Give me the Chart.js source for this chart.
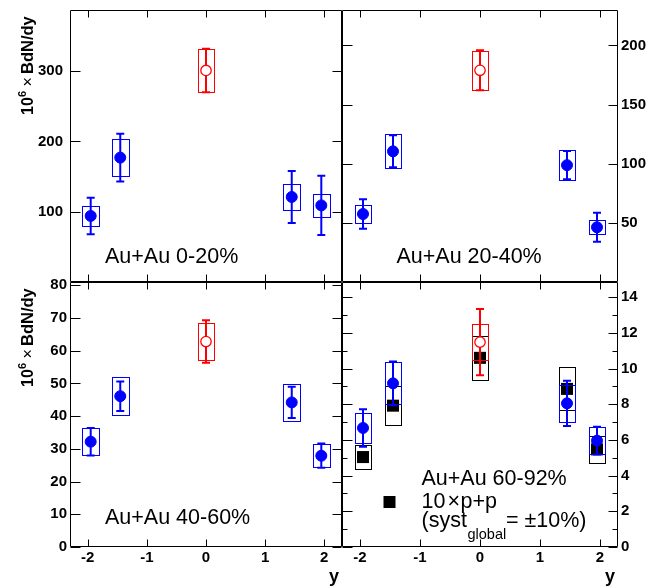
<!DOCTYPE html>
<html>
<head>
<meta charset="utf-8">
<script src="https://cdn.jsdelivr.net/npm/chart.js@4.4.1/dist/chart.umd.min.js"></script>
<style>
  body { margin: 0; background: #fff; }
  #wrap { position: relative; width: 662px; height: 587px; }
  #wrap canvas { position: absolute; left: 0; top: 0; }
</style>
</head>
<body>
<div id="wrap">
  <canvas id="c020" width="662" height="587"></canvas>
  <canvas id="c2040" width="662" height="587"></canvas>
  <canvas id="c4060" width="662" height="587"></canvas>
  <canvas id="c6092" width="662" height="587"></canvas>
</div>
<script>
// rapidity positions of the measurements
const yForward = [-1.95, -1.45, 1.45, 1.95];
const yMid = [0];
const yPP = [-1.95, -1.45, 0, 1.45, 1.95];
const xTickVals = [-2, -1, 0, 1, 2];

// Au+Au 0-20%
const c020Val = [94, 177, 121, 109];
const c020Stat = [26, 34, 37, 42];
const c020Syst = [14, 26, 18, 16];
const c020MidVal = [301];
const c020MidStat = [31];
const c020MidSyst = [31];

// Au+Au 20-40%
const c2040Val = [57.5, 110.5, 98.8, 46.3];
const c2040Stat = [12.5, 13.5, 11.9, 12.3];
const c2040Syst = [7.6, 14.3, 12.5, 5.8];
const c2040MidVal = [179];
const c2040MidStat = [16.9];
const c2040MidSyst = [16.6];

// Au+Au 40-60%
const c4060Val = [32.2, 46.1, 44.2, 27.9];
const c4060Stat = [4.2, 4.5, 4.8, 3.7];
const c4060Syst = [4.1, 5.9, 5.6, 3.5];
const c4060MidVal = [62.8];
const c4060MidStat = [6.5];
const c4060MidSyst = [5.6];

// Au+Au 60-92%
const c6092Val = [6.67, 9.17, 8.05, 5.96];
const c6092Stat = [1.05, 1.22, 1.27, 0.78];
const c6092Syst = [0.85, 1.18, 1.03, 0.77];
const c6092MidVal = [11.48];
const c6092MidStat = [1.85];
const c6092MidSyst = [1.01];

// 10 x p+p
const ppVal = [5.04, 7.92, 10.6, 8.86, 5.47];
const ppSyst = [0.69, 1.09, 1.23, 1.2, 0.75];

// axis ticks
const ticks020 = [100, 200, 300];
const ticks2040 = [50, 100, 150, 200];
const ticks4060 = [0, 10, 20, 30, 40, 50, 60, 70, 80];
const ticks6092 = [0, 2, 4, 6, 8, 10, 12, 14];
const minor6092 = [1, 3, 5, 7, 9, 11, 13];

const W = 662, H = 587;
const boxHalfWidth = 0.14;
const FONT = '"Liberation Sans", Arial, Helvetica, sans-serif';
Chart.defaults.font.family = FONT;

function auSeries(xs, val, stat, syst, open) {
  const color = open ? 'rgb(255,0,0)' : 'rgb(0,0,255)';
  return {
    data: xs.map((x, i) => ({ x: x, y: val[i] })),
    stat: stat,
    syst: syst,
    color: color,
    pointStyle: 'circle',
    pointRadius: open ? 5.2 : 5.5,
    pointBorderWidth: open ? 1.3 : 1,
    pointBackgroundColor: open ? '#fff' : color,
    pointBorderColor: color
  };
}

function ppSeries() {
  return {
    data: yPP.map((x, i) => ({ x: x, y: ppVal[i] })),
    syst: ppSyst,
    color: '#000',
    pointStyle: 'rect',
    pointRadius: 8.5,
    pointBorderWidth: 0,
    pointBackgroundColor: '#000',
    pointBorderColor: '#000'
  };
}

function drawYTitle(ctx, x, y0) {
  ctx.save();
  ctx.translate(x, y0);
  ctx.rotate(-Math.PI / 2);
  ctx.fillStyle = '#000';
  ctx.textAlign = 'left';
  ctx.textBaseline = 'alphabetic';
  ctx.font = 'bold 16px ' + FONT;
  ctx.fillText('10', 0, 0);
  ctx.font = 'bold 11px ' + FONT;
  ctx.fillText('6', 18, -7);
  ctx.font = '16px ' + FONT;
  ctx.fillText('\u00d7', 28.5, 0);
  ctx.font = 'bold 16.5px ' + FONT;
  ctx.fillText('BdN/dy', 41, 0);
  ctx.restore();
}

function framePlugin(p) {
  return {
    id: 'rootFrame',
    beforeDatasetDraw(chart, args) {
      const ds = chart.data.datasets[args.index];
      const xs = chart.scales.x, ys = chart.scales.y;
      const ctx = chart.ctx;
      ctx.save();
      ds.data.forEach((pt, i) => {
        const px = xs.getPixelForValue(pt.x);
        if (ds.syst) {
          const x0 = Math.round(xs.getPixelForValue(pt.x - boxHalfWidth)) + 0.5;
          const x1 = Math.round(xs.getPixelForValue(pt.x + boxHalfWidth)) + 0.5;
          const y0 = Math.round(ys.getPixelForValue(pt.y + ds.syst[i])) + 0.5;
          const y1 = Math.round(ys.getPixelForValue(pt.y - ds.syst[i])) + 0.5;
          ctx.strokeStyle = ds.color;
          ctx.lineWidth = 1;
          ctx.strokeRect(x0, y0, x1 - x0, y1 - y0);
        }
        if (ds.stat) {
          const yHi = ys.getPixelForValue(pt.y + ds.stat[i]);
          const yLo = ys.getPixelForValue(pt.y - ds.stat[i]);
          ctx.strokeStyle = ds.color;
          ctx.lineWidth = 2;
          ctx.beginPath();
          ctx.moveTo(px, yHi); ctx.lineTo(px, yLo);
          ctx.moveTo(px - 4, yHi); ctx.lineTo(px + 4, yHi);
          ctx.moveTo(px - 4, yLo); ctx.lineTo(px + 4, yLo);
          ctx.stroke();
        }
      });
      ctx.restore();
    },
    afterDraw(chart) {
      const ctx = chart.ctx;
      const xs = chart.scales.x, ys = chart.scales.y;
      const a = chart.chartArea;
      const L = Math.round(a.left) + 0.5, R = Math.round(a.right) - 0.5;
      const T = Math.round(a.top) + 0.5, B = Math.round(a.bottom) - 0.5;
      ctx.save();
      ctx.strokeStyle = '#000';
      ctx.lineWidth = 1;
      ctx.beginPath();
      ctx.rect(L, T, R - L, B - T);
      p.yTicks.forEach(v => {
        const py = Math.round(ys.getPixelForValue(v)) + 0.5;
        ctx.moveTo(L, py); ctx.lineTo(L + 10, py);
        ctx.moveTo(R, py); ctx.lineTo(R - 9, py);
      });
      (p.yMinor || []).forEach(v => {
        const py = Math.round(ys.getPixelForValue(v)) + 0.5;
        ctx.moveTo(L, py); ctx.lineTo(L + 5, py);
        ctx.moveTo(R, py); ctx.lineTo(R - 5, py);
      });
      xTickVals.forEach(v => {
        const px = Math.round(xs.getPixelForValue(v)) + 0.5;
        ctx.moveTo(px, B); ctx.lineTo(px, B - 7);
        ctx.moveTo(px, T); ctx.lineTo(px, T + 7);
      });
      ctx.stroke();

      ctx.fillStyle = '#000';
      ctx.textAlign = 'left';
      ctx.textBaseline = 'alphabetic';
      ctx.font = '21.5px ' + FONT;
      p.texts.forEach(t => ctx.fillText(t.text, t.x, t.y));

      if (p.legend) {
        ctx.fillRect(383.5, 496, 12, 12);
        ctx.font = '21.5px ' + FONT;
        ctx.fillText('10', 421.5, 508);
        ctx.fillText('\u00d7', 447.5, 508);
        ctx.fillText('p+p', 460.5, 508);
        ctx.fillText('(syst', 421.5, 526.5);
        ctx.fillText('= \u00b110%)', 506, 526.5);
        ctx.font = '14.5px ' + FONT;
        ctx.fillText('global', 467.5, 539);
      }
      if (p.yTitle) drawYTitle(ctx, 32.5, a.top + 105);
      if (p.showX) {
        ctx.font = 'bold 18px ' + FONT;
        ctx.textAlign = 'right';
        ctx.fillText('y', a.right - 3, 582);
      }
      ctx.restore();
    }
  };
}

function makePanel(id, p) {
  const yW = 40, xH = 30;
  const [l, t, r, b] = p.area;
  const pad = {
    top: t,
    left: p.yPos === 'left' ? l - yW : l,
    right: p.yPos === 'right' ? W - r - yW : W - r,
    bottom: p.showX ? H - b - xH : H - b
  };
  const tickFont = { family: FONT, size: 15, weight: 'bold' };
  return new Chart(document.getElementById(id), {
    type: 'scatter',
    data: { datasets: p.datasets },
    options: {
      responsive: false,
      animation: false,
      devicePixelRatio: 1,
      events: [],
      layout: { padding: pad },
      plugins: { legend: { display: false }, tooltip: { enabled: false } },
      scales: {
        x: {
          type: 'linear', min: -2.3, max: 2.3,
          display: p.showX,
          grid: { display: false, drawTicks: false },
          border: { display: false },
          afterBuildTicks: s => { s.ticks = xTickVals.map(v => ({ value: v })); },
          afterFit: s => {
            if (p.showX) s.height = xH;
            s.paddingLeft = 0; s.paddingRight = 0; s.paddingTop = 0; s.paddingBottom = 0;
          },
          ticks: { font: tickFont, color: '#000', padding: 2, maxRotation: 0, autoSkip: false,
                   callback: v => String(v) }
        },
        y: {
          type: 'linear', position: p.yPos, min: 0, max: p.yMax,
          grid: { display: false, drawTicks: false },
          border: { display: false },
          afterBuildTicks: s => { s.ticks = p.yTicks.map(v => ({ value: v })); },
          afterFit: s => {
            s.width = yW;
            s.paddingLeft = 0; s.paddingRight = 0; s.paddingTop = 0; s.paddingBottom = 0;
          },
          ticks: { font: tickFont, color: '#000', padding: p.yPad, autoSkip: false,
                   callback: v => String(v) }
        }
      }
    },
    plugins: [framePlugin(p)]
  });
}

makePanel('c020', {
  area: [70, 10, 342, 282], yPos: 'left', yPad: 7, showX: false, yTitle: true,
  yMax: 387, yTicks: ticks020,
  texts: [{ text: 'Au+Au 0-20%', x: 105, y: 263 }],
  datasets: [
    auSeries(yForward, c020Val, c020Stat, c020Syst, false),
    auSeries(yMid, c020MidVal, c020MidStat, c020MidSyst, true)
  ]
});

makePanel('c2040', {
  area: [342, 10, 618, 282], yPos: 'right', yPad: 3, showX: false,
  yMax: 230, yTicks: ticks2040,
  texts: [{ text: 'Au+Au 20-40%', x: 396.5, y: 263 }],
  datasets: [
    auSeries(yForward, c2040Val, c2040Stat, c2040Syst, false),
    auSeries(yMid, c2040MidVal, c2040MidStat, c2040MidSyst, true)
  ]
});

makePanel('c4060', {
  area: [70, 282, 342, 547], yPos: 'left', yPad: 3, showX: true, yTitle: true,
  yMax: 81, yTicks: ticks4060,
  texts: [{ text: 'Au+Au 40-60%', x: 105, y: 524 }],
  datasets: [
    auSeries(yForward, c4060Val, c4060Stat, c4060Syst, false),
    auSeries(yMid, c4060MidVal, c4060MidStat, c4060MidSyst, true)
  ]
});

makePanel('c6092', {
  area: [342, 282, 618, 547], yPos: 'right', yPad: 3, showX: true, legend: true,
  yMax: 14.85, yTicks: ticks6092, yMinor: minor6092,
  texts: [{ text: 'Au+Au 60-92%', x: 421.5, y: 485 }],
  datasets: [
    auSeries(yForward, c6092Val, c6092Stat, c6092Syst, false),
    auSeries(yMid, c6092MidVal, c6092MidStat, c6092MidSyst, true),
    ppSeries()
  ]
});
</script>
</body>
</html>
